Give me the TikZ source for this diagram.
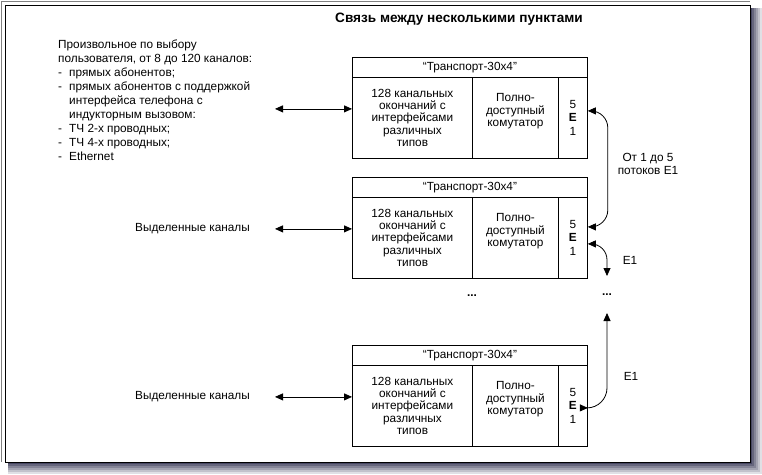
\documentclass[tikz,border=0pt]{standalone}
\usepackage{fontspec}
\setmainfont{Liberation Sans}
\usetikzlibrary{positioning,arrows.meta,calc}

\definecolor{shadowc}{rgb}{0.20,0.20,0.32}
\newcommand{\cellfont}{\fontsize{11.8}{12.4}\selectfont}
\newcommand{\leftfont}{\fontsize{11.8}{13.9}\selectfont}
\newcommand{\itm}{\makebox[11pt][l]{-}}

\tikzset{
  cell/.style={draw,line width=0.8pt,inner sep=0pt,anchor=north west,align=center,font=\cellfont},
  link/.style={line width=0.8pt,{Triangle[length=8pt,width=7pt]}-{Triangle[length=8pt,width=7pt]}},
  lbl/.style={font=\cellfont,align=center,inner sep=0pt},
}

\begin{document}
\begin{tikzpicture}[x=1pt,y=-1pt]
\useasboundingbox (0,0) rectangle (762,474);
\foreach \i/\p in {0/15,1/30,2/45,3/60,4/75,5/90}
  \fill[shadowc!\p] (8,8) rectangle (762-2*\i,474-2*\i);
\fill[white] (0,0) rectangle (750,462);
\draw[gray,line width=1pt] (1,462) -- (1,1) -- (750,1);
\draw[black,line width=1pt] (5,5) rectangle (750,462);

\node[font=\fontsize{13.6}{15}\selectfont\bfseries] (title) at (459,19) {Связь между несколькими пунктами};

\node[anchor=north west,align=left,inner sep=0pt,font=\leftfont] (opts) at (58,40) {Произвольное по выбору\\
пользователя, от 8 до 120 каналов:\\
\itm прямых абонентов;\\
\itm прямых абонентов с поддержкой\\
\hspace*{11pt}интерфейса телефона с\\
\hspace*{11pt}индукторным вызовом:\\
\itm ТЧ 2-х проводных;\\
\itm ТЧ 4-х проводных;\\
\itm Ethernet};

\foreach \n/\y in {A/57,B/177,C/345}{
  \node[cell,minimum width=235pt,minimum height=20pt] (hdr\n) at (352,\y) {“Транспорт-30x4”};
  \node[cell,minimum width=120pt,minimum height=81pt] (term\n) at (352,\y+20) {128 канальных\\окончаний с\\интерфейсами\\различных\\типов};
  \node[cell,minimum width=86pt,minimum height=81pt] (sw\n) at (472,\y+20) {Полно-\\доступный\\комутатор\\[3pt]};
  \node[cell,minimum width=29pt,minimum height=81pt] (e\n) at (558,\y+20) {5\\[1pt]\textbf{E}\\[1pt]1};
}

\coordinate (inA) at ($(termA.west)+(-77,-9)$);
\coordinate (inB) at ($(termB.west)+(-77,-9)$);
\coordinate (inC) at ($(termC.west)+(-77,-9)$);
\draw[link] (inA) -- (inA -| termA.west);
\draw[link] (inB) -- (inB -| termB.west);
\draw[link] (inC) -- (inC -| termC.west);
\node[lbl,left=25pt of inB] (chB) {Выделенные каналы};
\node[lbl,left=25pt of inC] (chC) {Выделенные каналы};

\node[lbl,font=\cellfont\bfseries] (dotsM) at (472,296) {...};
\node[lbl,font=\cellfont\bfseries] (dotsR) at (607,295) {...};
\coordinate (e1down) at ($(dotsR)+(0,-19)$);
\coordinate (e1up) at ($(dotsR)+(0,18)$);

\coordinate (ra) at ($(eA.east)+(0,-7)$);
\coordinate (rb) at ($(eB.east)+(0,-11)$);
\coordinate (rc) at ($(eB.east)+(0,6)$);
\coordinate (rd) at ($(eC.east)+(0,2)$);
\draw[link,rounded corners=17pt] (ra) -- ++(20,0) |- (rb);
\draw[link,rounded corners=16pt] (rc) -| (e1down);
\draw[link,rounded corners=20pt] (e1up) |- (rd);

\node[lbl] (flows) at (648,164) {От 1 до 5\\потоков E1};
\node[lbl] (e1B) at (630,260) {E1};
\node[lbl] (e1C) at (631,376) {E1};
\end{tikzpicture}
\end{document}
